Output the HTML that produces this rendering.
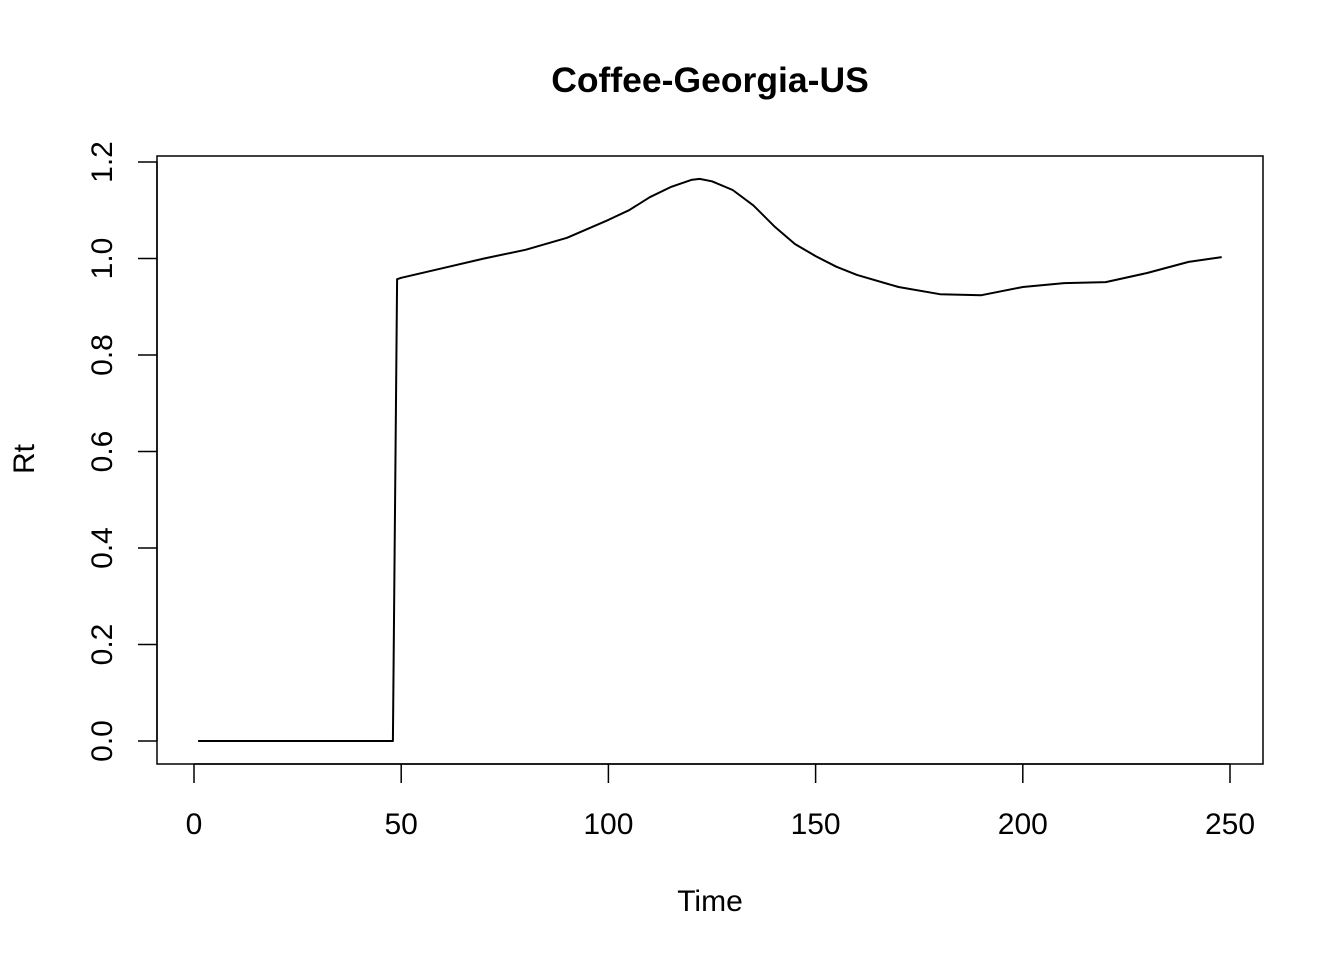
<!DOCTYPE html>
<html><head><meta charset="utf-8"><style>
body{margin:0;background:#fff;}
svg text{font-family:"Liberation Sans",Arial,sans-serif;fill:#000;}
</style></head><body>
<svg id="chart" width="1344" height="960">
<text x="710" y="92" font-size="35.5" font-weight="bold" text-anchor="middle">Coffee-Georgia-US</text>
<rect x="157" y="156" width="1106" height="608" fill="none" stroke="#000" stroke-width="1.5"/>
<text x="710" y="911" font-size="30" text-anchor="middle">Time</text>
<text transform="translate(34,459) rotate(-90)" font-size="30" text-anchor="middle">Rt</text>
<g id="axes"></g>
<path id="line" fill="none" stroke="#000" stroke-width="2" stroke-linejoin="round"/>
</svg>
<script>
const times=[1,48,49,50,60,70,80,90,100,105,110,115,120,122,125,130,135,140,145,150,155,160,170,180,190,200,210,220,230,240,248];
const rtValues=[0,0,0.957,0.96,0.98,1.0,1.018,1.043,1.08,1.10,1.127,1.148,1.163,1.165,1.16,1.142,1.11,1.067,1.03,1.005,0.983,0.966,0.941,0.926,0.924,0.941,0.949,0.951,0.97,0.993,1.003];
const xTicks=[0,50,100,150,200,250];
const yTicks=[0,0.2,0.4,0.6,0.8,1.0,1.2];
const yTickLabels=["0.0","0.2","0.4","0.6","0.8","1.0","1.2"];
const X=t=>194+t*(1230-194)/250;
const Y=v=>741-v*(741-162)/1.2;
const ns="http://www.w3.org/2000/svg";
const g=document.getElementById('axes');
function mk(tag,attrs){const e=document.createElementNS(ns,tag);for(const k in attrs)e.setAttribute(k,attrs[k]);g.appendChild(e);return e;}
mk('line',{x1:X(0),x2:X(250),y1:764,y2:764,stroke:'#000','stroke-width':1.5});
mk('line',{x1:157,x2:157,y1:Y(0),y2:Y(1.2),stroke:'#000','stroke-width':1.5});
xTicks.forEach(t=>{
 const l=mk('line',{x1:X(t),x2:X(t),y1:764,y2:783,stroke:'#000','stroke-width':1.5});
 
 
 const tx=mk('text',{x:X(t),y:834,'font-size':30,'text-anchor':'middle'});tx.textContent=t;
 
 
});
yTicks.forEach((v,i)=>{
 const l=mk('line',{x1:138,x2:157,y1:Y(v),y2:Y(v),stroke:'#000','stroke-width':1.5});
 
 
 const tx=mk('text',{transform:`translate(112,${Y(v)}) rotate(-90)`,'font-size':30,'text-anchor':'middle'});tx.textContent=yTickLabels[i];
 
 
});
document.getElementById('line').setAttribute('d',times.map((t,i)=>(i?'L':'M')+X(t).toFixed(1)+','+Y(rtValues[i]).toFixed(1)).join(' '));
</script>
</body></html>
